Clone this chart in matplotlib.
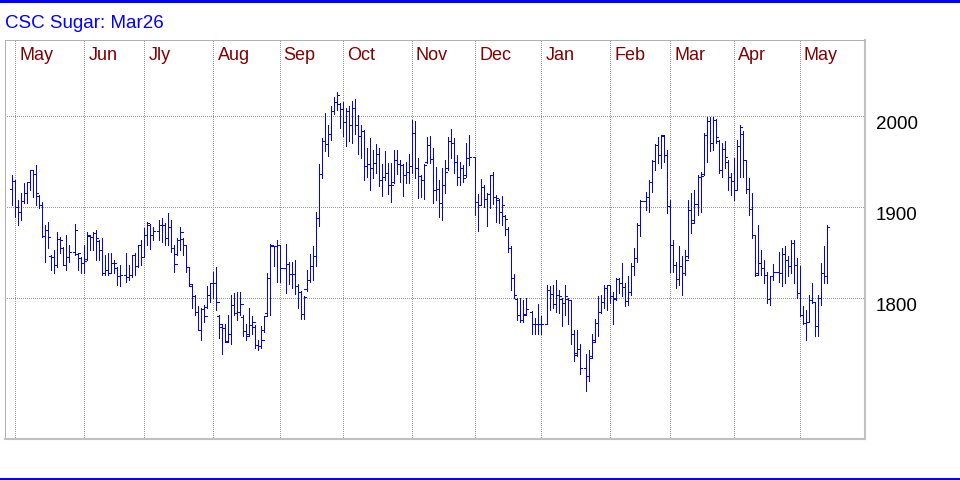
import numpy as np
import pandas as pd
import matplotlib
matplotlib.use("Agg")
import matplotlib.pyplot as plt
from matplotlib.patches import Rectangle

# daily OHLC for the Mar26 contract, Apr 29 2024 .. May 13 2025
holidays = ["2024-05-27", "2024-06-19", "2024-07-04", "2024-09-02", "2024-11-28",
            "2024-12-25", "2025-01-01", "2025-01-20", "2025-02-17", "2025-04-18"]

opens = [1920, 1929, 1900, 1895, 1907, 1915, 1927, 1941, 1936, 1912, 1902, 1868, 1875, 1846, 1845,
         1836, 1865, 1855, 1836, 1845, 1851, 1848, 1844, 1839, 1843, 1868, 1867, 1871, 1863, 1853,
         1827, 1831, 1827, 1838, 1833, 1824, 1825, 1823, 1825, 1847, 1835, 1858, 1845,
         1869, 1880, 1869, 1874, 1880, 1880, 1866, 1878, 1855, 1848, 1864, 1865, 1858, 1834, 1813,
         1802, 1785, 1765, 1788, 1790, 1803, 1816, 1816, 1780, 1768, 1767, 1753, 1761, 1792, 1783,
         1785, 1779, 1764, 1760, 1770, 1768, 1748, 1747, 1765, 1783, 1822, 1857, 1857, 1858,
         1833, 1837, 1826, 1826, 1813, 1807, 1782, 1810, 1820, 1835, 1846, 1888, 1936, 1972, 1969,
         1980, 2006, 2015, 2013, 2008, 1993, 2005, 1990, 2009, 1990, 1978, 1984, 1945, 1947, 1943,
         1948, 1958, 1930, 1933, 1937, 1924, 1928, 1952, 1947, 1946, 1935, 1939, 1945, 1981, 1943,
         1934,
         1930, 1950, 1968, 1953, 1919, 1920, 1904, 1924, 1943, 1973, 1970, 1950, 1933, 1943, 1935,
         1954, 1955, 1905, 1902, 1922, 1909, 1914, 1935, 1911, 1908, 1895, 1890, 1876, 1855, 1822,
         1799, 1781, 1776, 1782, 1785, 1771, 1771, 1771, 1772, 1809, 1804, 1793, 1803,
         1799, 1794, 1799, 1798, 1761, 1740, 1744, 1723, 1714, 1736, 1754, 1773, 1785, 1796, 1811,
         1814, 1802, 1800, 1821, 1816, 1812, 1797, 1807, 1835, 1844, 1880, 1907, 1911, 1928, 1951,
         1968, 1957, 1978, 1957, 1901, 1858, 1836, 1821, 1835, 1827, 1846, 1897, 1886,
         1903, 1933, 1936, 1979, 1995, 1970, 1996, 1972, 1941, 1964, 1950, 1933, 1929, 1919, 1967,
         1980, 1952, 1920, 1898, 1869, 1828, 1838, 1833, 1825, 1799, 1824, 1829, 1828, 1848, 1842,
         1835, 1861, 1836, 1806, 1781, 1773, 1774, 1798, 1796, 1769, 1800, 1827, 1824]

highs = [1935, 1930, 1908, 1915, 1926, 1928, 1941, 1941, 1946, 1913, 1906, 1880, 1884, 1847, 1853,
         1873, 1867, 1856, 1869, 1858, 1881, 1849, 1845, 1858, 1873, 1869, 1873, 1875, 1864, 1866,
         1847, 1849, 1849, 1842, 1834, 1836, 1849, 1836, 1847, 1849, 1858, 1864, 1877,
         1883, 1881, 1878, 1886, 1888, 1882, 1893, 1886, 1858, 1866, 1878, 1866, 1858, 1834, 1814,
         1803, 1791, 1789, 1792, 1813, 1816, 1829, 1834, 1781, 1770, 1772, 1781, 1803, 1805, 1807,
         1807, 1781, 1772, 1789, 1780, 1770, 1754, 1769, 1780, 1827, 1859, 1857, 1864, 1858,
         1859, 1840, 1840, 1842, 1815, 1808, 1802, 1831, 1848, 1857, 1895, 1947, 1976, 2003, 1990,
         2011, 2021, 2026, 2014, 2015, 2009, 2011, 2017, 2019, 2001, 1990, 1985, 1965, 1976, 1963,
         1969, 1965, 1947, 1961, 1948, 1948, 1963, 1963, 1952, 1947, 1950, 1958, 1996, 1994, 1954,
         1935,
         1947, 1977, 1978, 1965, 1944, 1930, 1943, 1952, 1977, 1986, 1976, 1957, 1950, 1946, 1970,
         1979, 1955, 1914, 1931, 1924, 1915, 1935, 1938, 1913, 1909, 1912, 1891, 1878, 1857, 1826,
         1800, 1800, 1798, 1800, 1786, 1778, 1793, 1780, 1814, 1813, 1814, 1820, 1809,
         1800, 1814, 1800, 1798, 1765, 1765, 1749, 1738, 1743, 1761, 1777, 1802, 1803, 1814, 1814,
         1814, 1807, 1822, 1822, 1838, 1816, 1824, 1838, 1855, 1882, 1908, 1917, 1930, 1952, 1969,
         1977, 1979, 1979, 1963, 1908, 1864, 1840, 1857, 1846, 1853, 1908, 1915, 1919,
         1935, 1939, 1981, 1999, 1999, 1999, 1997, 1974, 1970, 1972, 1952, 1937, 1954, 1974, 1990,
         1983, 1952, 1932, 1915, 1869, 1880, 1853, 1842, 1829, 1824, 1837, 1851, 1855, 1857, 1846,
         1864, 1864, 1844, 1835, 1791, 1787, 1803, 1816, 1796, 1803, 1838, 1857, 1880]

lows = [1902, 1889, 1880, 1886, 1904, 1904, 1919, 1911, 1902, 1899, 1867, 1840, 1855, 1831, 1827,
        1834, 1849, 1836, 1831, 1840, 1847, 1831, 1827, 1827, 1842, 1853, 1853, 1842, 1842, 1825,
        1825, 1825, 1827, 1827, 1814, 1813, 1818, 1820, 1823, 1825, 1834, 1836, 1845,
        1858, 1854, 1864, 1864, 1862, 1858, 1858, 1851, 1829, 1847, 1853, 1847, 1829, 1813, 1789,
        1781, 1765, 1754, 1774, 1789, 1796, 1800, 1787, 1756, 1739, 1752, 1752, 1749, 1781, 1776,
        1781, 1758, 1754, 1758, 1761, 1745, 1743, 1745, 1763, 1781, 1781, 1835, 1818, 1818,
        1806, 1815, 1811, 1804, 1789, 1777, 1777, 1808, 1818, 1820, 1835, 1879, 1932, 1961, 1956,
        1974, 2002, 2007, 1987, 1978, 1967, 1972, 1970, 1980, 1958, 1954, 1930, 1933, 1919, 1932,
        1937, 1923, 1912, 1930, 1914, 1906, 1926, 1936, 1928, 1912, 1926, 1926, 1937, 1932, 1910,
        1911,
        1909, 1948, 1948, 1904, 1908, 1889, 1886, 1915, 1941, 1954, 1937, 1924, 1924, 1928, 1933,
        1946, 1891, 1874, 1902, 1900, 1879, 1899, 1903, 1884, 1882, 1880, 1869, 1851, 1809, 1800,
        1776, 1774, 1774, 1781, 1760, 1760, 1761, 1760, 1771, 1787, 1789, 1785, 1783,
        1769, 1781, 1772, 1750, 1731, 1736, 1717, 1698, 1709, 1734, 1752, 1758, 1783, 1789, 1787,
        1794, 1772, 1798, 1806, 1802, 1791, 1792, 1803, 1825, 1840, 1868, 1897, 1895, 1917, 1941,
        1948, 1943, 1950, 1893, 1829, 1829, 1811, 1814, 1803, 1825, 1844, 1871, 1884,
        1891, 1895, 1935, 1949, 1961, 1963, 1970, 1937, 1933, 1943, 1919, 1913, 1908, 1919, 1933,
        1933, 1915, 1891, 1866, 1824, 1825, 1825, 1816, 1794, 1792, 1820, 1818, 1813, 1816, 1824,
        1827, 1816, 1800, 1780, 1771, 1754, 1774, 1794, 1758, 1758, 1792, 1816, 1816]

closes = [1929, 1900, 1895, 1907, 1915, 1927, 1941, 1936, 1915, 1902, 1868, 1875, 1867, 1845, 1836,
          1865, 1864, 1836, 1845, 1851, 1875, 1849, 1839, 1841, 1869, 1867, 1871, 1866, 1853, 1827,
          1831, 1827, 1838, 1838, 1824, 1825, 1823, 1825, 1847, 1835, 1858, 1845, 1869,
          1882, 1869, 1874, 1880, 1880, 1866, 1878, 1855, 1837, 1864, 1873, 1858, 1834, 1815, 1802,
          1785, 1765, 1788, 1780, 1803, 1816, 1816, 1796, 1771, 1767, 1752, 1761, 1792, 1783, 1785,
          1793, 1764, 1758, 1770, 1774, 1748, 1747, 1754, 1780, 1822, 1858, 1857, 1858, 1833,
          1837, 1826, 1826, 1813, 1807, 1782, 1801, 1820, 1835, 1846, 1888, 1936, 1972, 1969, 1980,
          2006, 2015, 2023, 2008, 1993, 2005, 1990, 2009, 1990, 1978, 1984, 1945, 1947, 1943, 1948,
          1958, 1930, 1933, 1937, 1924, 1924, 1952, 1947, 1946, 1935, 1939, 1945, 1981, 1943, 1934,
          1930,
          1946, 1968, 1953, 1919, 1920, 1904, 1924, 1939, 1973, 1970, 1950, 1933, 1943, 1932, 1954,
          1955, 1905, 1902, 1922, 1909, 1914, 1935, 1911, 1910, 1895, 1902, 1887, 1855, 1822, 1803,
          1781, 1776, 1781, 1788, 1771, 1771, 1771, 1771, 1809, 1804, 1793, 1803, 1802,
          1794, 1802, 1798, 1761, 1737, 1744, 1723, 1714, 1734, 1752, 1773, 1785, 1796, 1811, 1814,
          1802, 1799, 1821, 1816, 1812, 1797, 1807, 1835, 1844, 1880, 1907, 1911, 1928, 1951, 1968,
          1957, 1979, 1957, 1901, 1858, 1836, 1821, 1835, 1827, 1842, 1897, 1882, 1903,
          1933, 1934, 1979, 1995, 1970, 1996, 1977, 1941, 1964, 1955, 1933, 1929, 1919, 1967, 1988,
          1952, 1920, 1898, 1869, 1825, 1838, 1833, 1825, 1799, 1824, 1829, 1828, 1848, 1842, 1835,
          1861, 1836, 1806, 1781, 1773, 1774, 1798, 1796, 1769, 1800, 1827, 1824, 1878]

month_labels = ["May", "Jun", "Jly", "Aug", "Sep", "Oct", "Nov", "Dec",
                "Jan", "Feb", "Mar", "Apr", "May"]
price_labels = [2000, 1900, 1800]

# weekday slots, holidays stay as empty slots
days = pd.bdate_range("2024-04-29", "2025-05-13")
slot = np.arange(len(days))
traded = ~days.isin(pd.to_datetime(holidays))
x = slot[traded]
if len(x) != len(closes):
    raise SystemExit(f"{len(x)} days vs {len(closes)} bars")

# month grid sits one slot before the first weekday of each month
month_key = days.year * 12 + days.month
first = slot[np.r_[True, month_key[1:] != month_key[:-1]]][1:]
grid_x = first - 1

plt.rcParams['font.family'] = ['Liberation Sans', 'DejaVu Sans']

fig = plt.figure(figsize=(9.6, 4.8), dpi=100)
ax = fig.add_axes([5 / 960, 41 / 480, 860 / 960, 399 / 480])
ax.set_xlim(-2.29, 283.7)
ax.set_ylim(1645.1, 2083.5)
ax.set_xticks([])
ax.set_yticks([])

dots = (0, (1, 2))
grid_kw = dict(color='#999999', lw=0.72, ls=dots, antialiased=False, zorder=1)
for v in price_labels:
    ax.axhline(v, **grid_kw)
for g in grid_x:
    ax.axvline(g, **grid_kw)

for side in ('top', 'left'):
    ax.spines[side].set_color('#b0b0b0')
    ax.spines[side].set_linestyle(dots)
    ax.spines[side].set_linewidth(0.72)
    ax.spines[side].set_antialiased(False)
for side in ('right', 'bottom'):
    ax.spines[side].set_color('#c0c0c0')
    ax.spines[side].set_linewidth(1.5)

# OHLC bars
blue = '#0000ff'
x = np.asarray(x, dtype=float)
bar_kw = dict(color=blue, lw=0.72, antialiased=False, zorder=3)
ax.vlines(x, lows, highs, **bar_kw)
ax.hlines(opens, x - 0.75, x, **bar_kw)
ax.hlines(closes, x, x + 0.75, **bar_kw)

for g, lbl in zip(grid_x, month_labels):
    ax.annotate(lbl, xy=(g, 0.95), xycoords=('data', 'axes fraction'),
                xytext=(3, 0), textcoords='offset points',
                color='#800000', fontsize=13, va='baseline', ha='left')

for v in price_labels:
    ax.annotate(str(v), xy=(1, v), xycoords=('axes fraction', 'data'),
                xytext=(8, -9.4), textcoords='offset points',
                color='black', fontsize=13.5, va='baseline', ha='left')

fig.text(5 / 960, 1 - 28 / 480, "CSC Sugar: Mar26", color=blue, fontsize=13.5,
         va='baseline', ha='left')

fig.add_artist(Rectangle((0, 1 - 3 / 480), 1, 3 / 480, transform=fig.transFigure,
                         color=blue, lw=0))
fig.add_artist(Rectangle((0, 0), 1, 2.5 / 480, transform=fig.transFigure,
                         color=blue, lw=0))

fig.savefig("out.png", dpi=100)
